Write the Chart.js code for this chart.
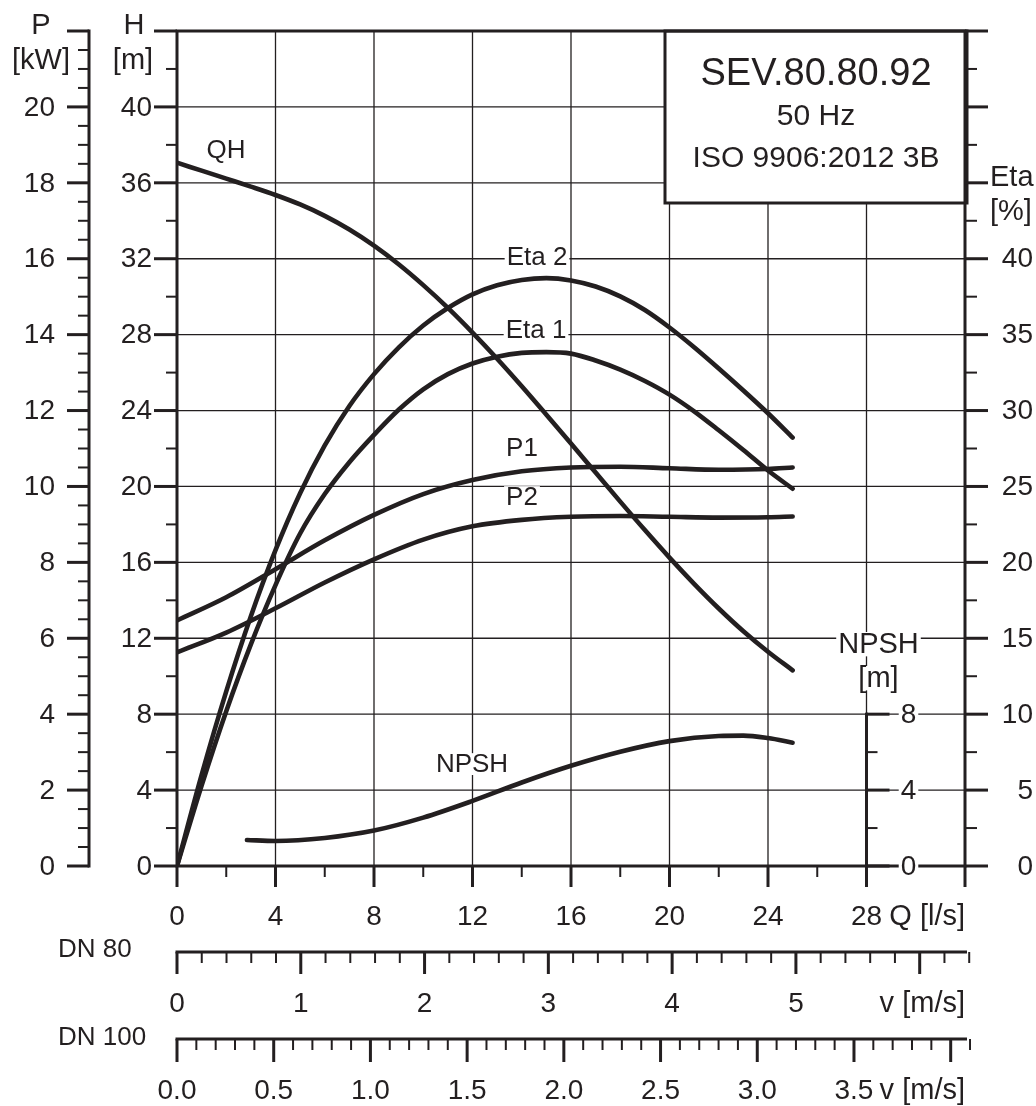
<!DOCTYPE html>
<html>
<head>
<meta charset="utf-8">
<script src="https://cdn.jsdelivr.net/npm/chart.js@4.4.1/dist/chart.umd.min.js"></script>
<style>
    html, body { margin: 0; padding: 0; background: #fff; }
    #wrap { width: 1036px; height: 1106px; }
</style>
</head>
<body>
<div id="wrap"><canvas id="pumpChart" width="1036" height="1106"></canvas></div>
<script>
// Pump curves (Q in l/s)
const qFine = [0, 1, 2, 3, 4, 5, 6, 7, 8, 9, 10, 11, 12, 13, 14, 15, 16, 17, 18, 19, 20, 21, 22, 23, 24, 25];
const headQH = [37.06, 36.64, 36.22, 35.8, 35.36, 34.86, 34.26, 33.54, 32.69, 31.71, 30.61, 29.41, 28.11, 26.73, 25.28, 23.78, 22.26, 20.73, 19.2, 17.7, 16.25, 14.87, 13.57, 12.37, 11.29, 10.31];
const eta2 = [0, 6.0, 11.5, 16.45, 20.8, 24.55, 27.7, 30.3, 32.4, 34.15, 35.6, 36.75, 37.65, 38.25, 38.6, 38.72, 38.57, 38.17, 37.52, 36.62, 35.47, 34.17, 32.77, 31.32, 29.82, 28.22];
const eta1 = [0, 5.3, 10.2, 14.6, 18.5, 21.9, 24.5, 26.6, 28.4, 30.05, 31.4, 32.4, 33.1, 33.55, 33.8, 33.85, 33.75, 33.3, 32.7, 31.95, 31.05, 29.95, 28.7, 27.4, 26.05, 24.85];

const qCoarse = [0, 2, 4, 6, 8, 10, 12, 14, 16, 18, 20, 22, 24, 25];
const powerP1 = [6.47, 7.08, 7.82, 8.58, 9.25, 9.8, 10.17, 10.4, 10.5, 10.52, 10.48, 10.44, 10.46, 10.5];
const powerP2 = [5.63, 6.15, 6.79, 7.47, 8.08, 8.6, 8.95, 9.12, 9.2, 9.22, 9.2, 9.18, 9.19, 9.21];

const qNpsh = [2.84, 4, 6, 8, 10, 12, 14, 16, 18, 20, 22, 23, 24, 25];
const npshValues = [1.37, 1.32, 1.48, 1.87, 2.55, 3.43, 4.4, 5.28, 6.02, 6.58, 6.85, 6.87, 6.74, 6.5];

// Tick labels
const qTicks = [0, 4, 8, 12, 16, 20, 24, 28];
const hTicks = [0, 4, 8, 12, 16, 20, 24, 28, 32, 36, 40];
const pTicks = [0, 2, 4, 6, 8, 10, 12, 14, 16, 18, 20];
const etaTicks = [0, 5, 10, 15, 20, 25, 30, 35, 40];
const npshTicks = [0, 4, 8];
const vTicksDN80 = [0, 1, 2, 3, 4, 5];
const vTicksDN100 = [0, 0.5, 1.0, 1.5, 2.0, 2.5, 3.0, 3.5];

// Axis ranges
const Q_MAX = 32;
const H_MAX = 44;
const P_MAX = 22;
const ETA_MAX = 55;
const NPSH_MAX = 8;
const V80_MAX = 6.366;   // 32 l/s through DN 80
const V100_MAX = 4.074;  // 32 l/s through DN 100

// Curve name labels, placed in Q / H units
const curveLabels = [
    { text: 'QH', q: 1.99, h: 37.73 },
    { text: 'Eta 2', q: 14.62, h: 32.09 },
    { text: 'Eta 1', q: 14.58, h: 28.24 },
    { text: 'P1', q: 14.01, h: 22.03 },
    { text: 'P2', q: 14.01, h: 19.44 },
    { text: 'NPSH', q: 11.98, h: 5.37 }
];

const INK = '#231f20';
const FONT = '"Liberation Sans", Arial, Helvetica, sans-serif';
const TICK_SIZE = 28;

function toPoints(xs, ys) {
    return xs.map((x, i) => ({ x: x, y: ys[i] }));
}

function strokeLine(ctx, x1, y1, x2, y2, w) {
    ctx.beginPath();
    ctx.lineWidth = w;
    ctx.strokeStyle = INK;
    ctx.lineCap = 'butt';
    ctx.moveTo(x1, y1);
    ctx.lineTo(x2, y2);
    ctx.stroke();
}

function drawText(ctx, str, x, y, size, align, withBg) {
    ctx.font = size + 'px ' + FONT;
    ctx.textAlign = align || 'center';
    ctx.textBaseline = 'middle';
    if (withBg) {
        const w = ctx.measureText(str).width;
        let left = x - w / 2;
        if (align === 'right') left = x - w;
        if (align === 'left') left = x;
        ctx.fillStyle = '#fff';
        ctx.fillRect(left - 2, y - size * 0.42, w + 4, size * 0.84);
    }
    ctx.fillStyle = INK;
    ctx.fillText(str, x, y + 1);
}

// Ticks along a vertical axis (dir -1 = to the left, +1 = to the right)
function verticalTicks(ctx, scale, x, from, to, minor, major, dir, lenMajor, lenMinor) {
    const n = Math.round((to - from) / minor);
    for (let i = 0; i <= n; i++) {
        const v = from + i * minor;
        const isMajor = Math.abs(v / major - Math.round(v / major)) < 1e-6;
        const y = scale.getPixelForValue(v);
        const len = isMajor ? lenMajor : lenMinor;
        strokeLine(ctx, x, y, x + dir * len, y, isMajor ? 3 : 2);
    }
}

// Ticks along a horizontal axis, pointing down
function horizontalTicks(ctx, scale, y, from, to, minor, major, lenMajor, lenMinor) {
    const n = Math.round((to - from) / minor);
    for (let i = 0; i <= n; i++) {
        const v = from + i * minor;
        const isMajor = Math.abs(v / major - Math.round(v / major)) < 1e-6;
        const x = scale.getPixelForValue(v);
        const len = isMajor ? lenMajor : lenMinor;
        strokeLine(ctx, x, y, x, y + len, isMajor ? 3 : 2);
    }
}

const pumpDecor = {
    id: 'pumpDecor',
    beforeDatasetsDraw(chart) {
        const ctx = chart.ctx;
        const area = chart.chartArea;
        const sx = chart.scales.x;
        const sh = chart.scales.yH;
        ctx.save();
        // Grid
        for (let q = 4; q < Q_MAX; q += 4) {
            const x = sx.getPixelForValue(q);
            strokeLine(ctx, x, area.top, x, area.bottom, 1.3);
        }
        for (let h = 4; h < H_MAX; h += 4) {
            const y = sh.getPixelForValue(h);
            strokeLine(ctx, area.left, y, area.right, y, 1.3);
        }
        // Curve names
        curveLabels.forEach(l => {
            drawText(ctx, l.text, sx.getPixelForValue(l.q), sh.getPixelForValue(l.h), 26, 'center', true);
        });
        ctx.restore();
    },
    afterDatasetsDraw(chart) {
        const ctx = chart.ctx;
        const area = chart.chartArea;
        const sx = chart.scales.x;
        const sh = chart.scales.yH;
        const sp = chart.scales.yP;
        const se = chart.scales.yEta;
        const sn = chart.scales.yN;
        const s80 = chart.scales.v80;
        const s100 = chart.scales.v100;
        ctx.save();

        // Title box
        const boxL = area.right - 300, boxT = area.top, boxR = area.right + 2, boxB = area.top + 172;
        ctx.fillStyle = '#fff';
        ctx.fillRect(boxL, boxT, boxR - boxL, boxB - boxT);
        ctx.lineWidth = 3;
        ctx.strokeStyle = INK;
        ctx.strokeRect(boxL, boxT, boxR - boxL, boxB - boxT);
        const boxC = (boxL + boxR) / 2;
        drawText(ctx, 'SEV.80.80.92', boxC, boxT + 43, 38, 'center');
        drawText(ctx, '50 Hz', boxC, boxT + 85, 30, 'center');
        drawText(ctx, 'ISO 9906:2012 3B', boxC, boxT + 127, 30, 'center');

        // Plot frame
        ctx.lineWidth = 3;
        ctx.strokeRect(area.left, area.top, area.right - area.left, area.bottom - area.top);

        // Q axis (bottom)
        horizontalTicks(ctx, sx, area.bottom, 0, Q_MAX, 2, 4, 21, 11);
        qTicks.forEach(q => drawText(ctx, String(q), sx.getPixelForValue(q), area.bottom + 50, TICK_SIZE, 'center'));
        drawText(ctx, 'Q [l/s]', area.right, area.bottom + 50, 29, 'right');

        // H axis (left edge of plot)
        verticalTicks(ctx, sh, area.left, 0, H_MAX, 2, 4, -1, 23, 11);
        hTicks.forEach(h => drawText(ctx, String(h), area.left - 25, sh.getPixelForValue(h), TICK_SIZE, 'right'));
        drawText(ctx, 'H', area.left - 43, 25, 29, 'center');
        drawText(ctx, '[m]', area.left - 44, 60, 29, 'center');

        // P axis (outer left)
        const pX = area.left - 88;
        strokeLine(ctx, pX, sp.getPixelForValue(0) + 1.5, pX, sp.getPixelForValue(P_MAX) - 1.5, 3);
        verticalTicks(ctx, sp, pX, 0, P_MAX, 0.5, 2, -1, 22, 11);
        pTicks.forEach(p => drawText(ctx, String(p), pX - 34, sp.getPixelForValue(p), TICK_SIZE, 'right'));
        drawText(ctx, 'P', pX - 48, 25, 29, 'center');
        drawText(ctx, '[kW]', pX - 48, 60, 29, 'center');

        // Eta axis (right)
        verticalTicks(ctx, se, area.right, 0, ETA_MAX, 2.5, 5, 1, 23, 12);
        etaTicks.forEach(e => drawText(ctx, String(e), area.right + 68, se.getPixelForValue(e), TICK_SIZE, 'right'));
        drawText(ctx, 'Eta', area.right + 25, 177, 29, 'left');
        drawText(ctx, '[%]', area.right + 25, 211, 29, 'left');

        // NPSH axis at Q = 28
        const nX = sx.getPixelForValue(28);
        strokeLine(ctx, nX, sn.getPixelForValue(0), nX, sn.getPixelForValue(NPSH_MAX) - 1.5, 3);
        verticalTicks(ctx, sn, nX, 0, NPSH_MAX, 2, 4, 1, 23, 11);
        npshTicks.forEach(n => drawText(ctx, String(n), nX + 42, sn.getPixelForValue(n), TICK_SIZE, 'center', true));
        drawText(ctx, 'NPSH', nX + 12, sn.getPixelForValue(NPSH_MAX) - 70, 29, 'center', true);
        drawText(ctx, '[m]', nX + 12, sn.getPixelForValue(NPSH_MAX) - 36, 29, 'center', true);

        // Velocity axis DN 80
        const y80 = area.bottom + 86;
        strokeLine(ctx, area.left - 1.5, y80, area.right + 2, y80, 3);
        horizontalTicks(ctx, s80, y80, 0, V80_MAX, 0.2, 1, 22, 11);
        vTicksDN80.forEach(v => drawText(ctx, String(v), s80.getPixelForValue(v), y80 + 51, TICK_SIZE, 'center'));
        drawText(ctx, 'v [m/s]', area.right, y80 + 51, 29, 'right');
        drawText(ctx, 'DN 80', 58, y80 - 3, 26, 'left');

        // Velocity axis DN 100
        const y100 = area.bottom + 173;
        strokeLine(ctx, area.left - 1.5, y100, area.right + 2, y100, 3);
        horizontalTicks(ctx, s100, y100, 0, V100_MAX, 0.1, 0.5, 23, 11);
        vTicksDN100.forEach(v => drawText(ctx, v.toFixed(1), s100.getPixelForValue(v), y100 + 51, TICK_SIZE, 'center'));
        drawText(ctx, 'v [m/s]', area.right, y100 + 51, 29, 'right');
        drawText(ctx, 'DN 100', 58, y100 - 2, 26, 'left');

        ctx.restore();
    }
};

function curve(label, points, axis) {
    return {
        label: label,
        data: points,
        yAxisID: axis,
        xAxisID: 'x',
        borderColor: INK,
        borderWidth: 4.6,
        pointRadius: 0,
        fill: false,
        cubicInterpolationMode: 'monotone',
        borderCapStyle: 'round',
        borderJoinStyle: 'round'
    };
}

new Chart(document.getElementById('pumpChart'), {
    type: 'line',
    data: {
        datasets: [
            curve('QH', toPoints(qFine, headQH), 'yH'),
            curve('Eta 2', toPoints(qFine, eta2), 'yEta'),
            curve('Eta 1', toPoints(qFine, eta1), 'yEta'),
            curve('P1', toPoints(qCoarse, powerP1), 'yP'),
            curve('P2', toPoints(qCoarse, powerP2), 'yP'),
            curve('NPSH', toPoints(qNpsh, npshValues), 'yN')
        ]
    },
    options: {
        responsive: false,
        animation: false,
        devicePixelRatio: 1,
        events: [],
        layout: { padding: { left: 177, top: 31, right: 71, bottom: 240 } },
        plugins: {
            legend: { display: false },
            title: { display: false },
            tooltip: { enabled: false }
        },
        scales: {
            x: { type: 'linear', position: 'bottom', min: 0, max: Q_MAX, display: false },
            v80: { type: 'linear', axis: 'x', position: 'bottom', min: 0, max: V80_MAX, display: false },
            v100: { type: 'linear', axis: 'x', position: 'bottom', min: 0, max: V100_MAX, display: false },
            yH: { type: 'linear', position: 'left', min: 0, max: H_MAX, display: false },
            yP: { type: 'linear', position: 'left', min: 0, max: P_MAX, display: false },
            yEta: { type: 'linear', position: 'right', min: 0, max: ETA_MAX, display: false },
            yN: { type: 'linear', position: 'right', min: 0, max: H_MAX, display: false }
        }
    },
    plugins: [pumpDecor]
});
</script>
</body>
</html>
